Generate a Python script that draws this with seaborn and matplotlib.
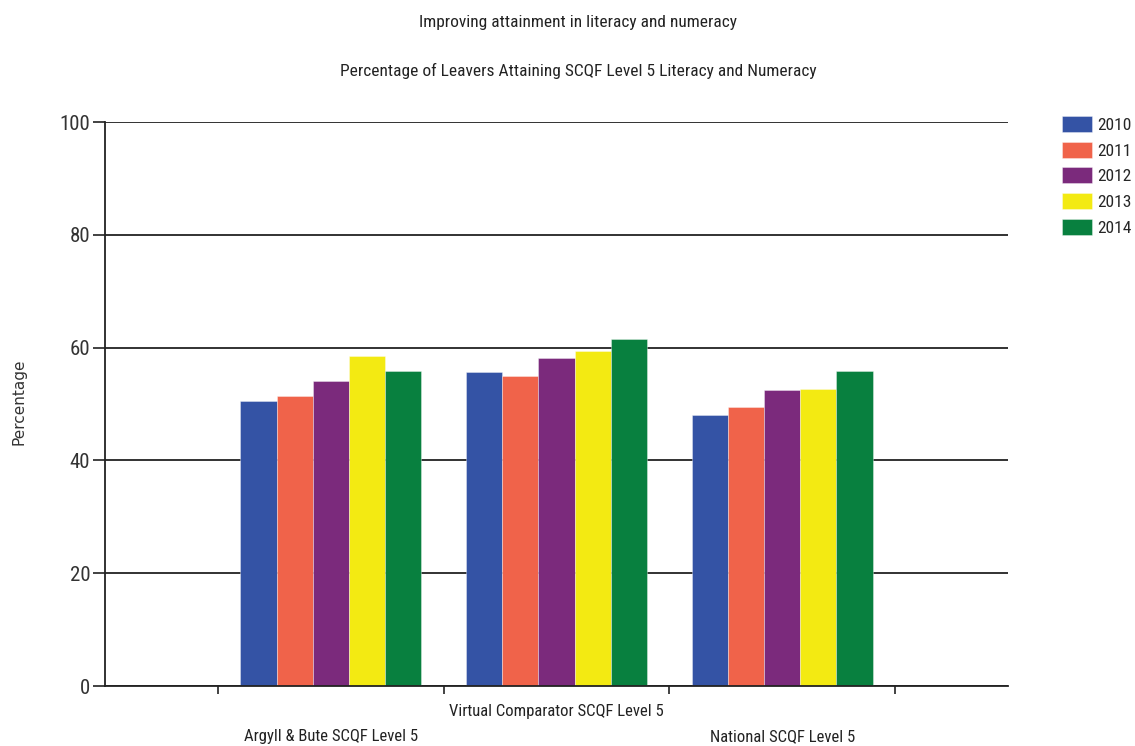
import matplotlib
matplotlib.use("Agg")
import matplotlib.pyplot as plt
from matplotlib import font_manager
from matplotlib.font_manager import FontProperties
from matplotlib.patches import Patch
import seaborn as sns
import pandas as pd

# Data
categories = ["Argyll & Bute SCQF Level 5", "Virtual Comparator SCQF Level 5", "National SCQF Level 5"]
years = ["2010", "2011", "2012", "2013", "2014"]
values_2010 = [50.6, 55.7, 48.0]
values_2011 = [51.5, 55.0, 49.5]
values_2012 = [54.0, 58.2, 52.4]
values_2013 = [58.5, 59.4, 52.7]
values_2014 = [55.9, 61.6, 55.9]
year_colors = ["#3453A5", "#F0634A", "#7B2A7C", "#F3EA12", "#08803F"]

series = [values_2010, values_2011, values_2012, values_2013, values_2014]
df = pd.DataFrame(
    [(cat, yr, vals[i]) for yr, vals in zip(years, series) for i, cat in enumerate(categories)],
    columns=["Category", "Year", "Percentage"],
)

sns.set_theme(style="white")


def pick_narrow_font():
    """Find a condensed sans-serif face; fall back to Liberation Sans."""
    entries = font_manager.fontManager.ttflist
    preferred = ["Liberation Sans Narrow", "Arial Narrow", "Roboto Condensed",
                 "Open Sans Condensed", "DejaVu Sans Condensed"]
    for name in preferred:
        for f in entries:
            if f.name == name and f.weight in (400, "normal", "regular") and f.style == "normal":
                return f.fname
    for f in entries:
        stretch = str(f.stretch).lower()
        if (("condensed" in stretch or "narrow" in f.fname.lower() or "condensed" in f.fname.lower())
                and f.style == "normal" and f.weight in (400, "normal", "regular")
                and "bold" not in f.fname.lower() and "mono" not in f.fname.lower()
                and "serif" not in f.name.lower().replace("sans", "")):
            return f.fname
    for f in entries:
        if f.name == "Liberation Sans" and f.style == "normal" and f.weight in (400, "normal", "regular"):
            return f.fname
    return None


narrow_path = pick_narrow_font()


def narrow(size):
    if narrow_path:
        return FontProperties(fname=narrow_path, size=size)
    return FontProperties(family="DejaVu Sans", size=size)


fig = plt.figure(figsize=(11.35, 7.46), dpi=100)
ax = fig.add_axes([105 / 1135, 60 / 746, 903 / 1135, 564 / 746])

sns.barplot(
    data=df, x="Category", y="Percentage", hue="Year", order=categories,
    hue_order=years, palette=year_colors, width=0.8, ax=ax,
    edgecolor=(1, 1, 1, 0.5), linewidth=0.5, legend=False, saturation=1,
)

ax.set_xlim(-1, 3)
ax.set_ylim(0, 100)
ax.set_yticks([0, 20, 40, 60, 80, 100])
ax.tick_params(axis="y", which="major", direction="out", length=8.6, width=1.2,
               color="#222222", labelcolor="#333333", pad=2, left=True)
for lab in ax.get_yticklabels():
    lab.set_fontproperties(narrow(15))
ax.yaxis.grid(True, color="#222222", linewidth=1.3)
ax.set_axisbelow(True)

# Category labels staggered in two rows; boundary ticks between groups
ax.set_xticks(range(len(categories)))
labels = ["\n" + categories[0], categories[1], "\n" + categories[2]]
ax.set_xticklabels(labels, color="#222222")
for lab in ax.get_xticklabels():
    lab.set_fontproperties(narrow(12))
    lab.set_linespacing(1.85)
ax.tick_params(axis="x", which="major", length=0, pad=13)
ax.set_xticks([-0.5, 0.5, 1.5, 2.5], minor=True)
ax.tick_params(axis="x", which="minor", direction="out", length=6, width=1.2,
               color="#222222", bottom=True)

ax.set_xlabel("")
ax.set_ylabel("Percentage", fontsize=11, color="#333333", family=["DejaVu Sans"])
ax.yaxis.set_label_coords(-0.087, 0.504)

for side in ["top", "right"]:
    ax.spines[side].set_visible(False)
for side in ["left", "bottom"]:
    ax.spines[side].set_color("#222222")
    ax.spines[side].set_linewidth(1.3)

fig.text(578 / 1135, 1 - 22 / 746, "Improving attainment in literacy and numeracy",
         ha="center", va="center", color="#222222", fontproperties=narrow(12.5))
fig.text(578 / 1135, 1 - 71 / 746, "Percentage of Leavers Attaining SCQF Level 5 Literacy and Numeracy",
         ha="center", va="center", color="#222222", fontproperties=narrow(12.5))

handles = [Patch(facecolor=c, edgecolor=(1, 1, 1, 0.5), linewidth=0.5) for c in year_colors]
fig.legend(handles, years, loc="upper left", bbox_to_anchor=(1062 / 1135, 1 - 116 / 746),
           frameon=False, prop=narrow(12.5), handlelength=1.75, handleheight=1.05,
           labelspacing=0.5, handletextpad=0.3, borderaxespad=0, borderpad=0)

fig.savefig("out.png", dpi=100)
